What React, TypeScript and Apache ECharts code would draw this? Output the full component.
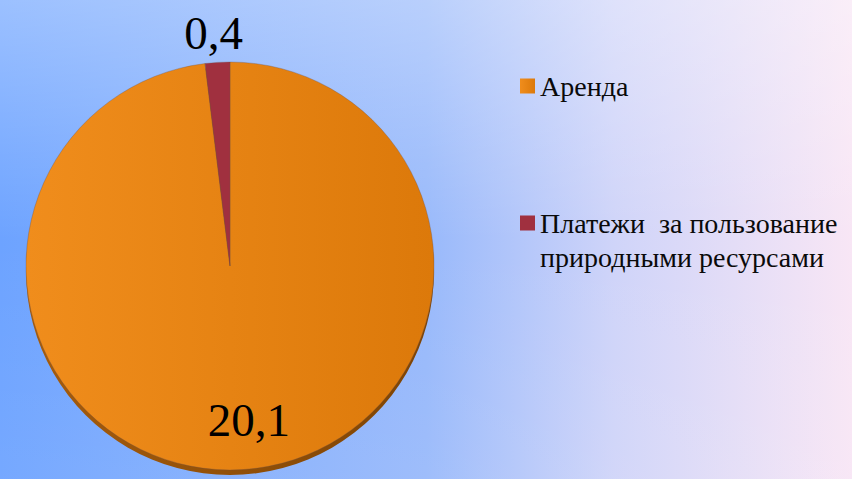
import React, { useEffect, useRef } from "react";
import * as echarts from "echarts";

const categories = ["Аренда", "Платежи за пользование природными ресурсами"];
const values = [20.1, 0.4];
const legendLines: Record<string, string[]> = {
  "Аренда": ["Аренда"],
  "Платежи за пользование природными ресурсами": ["Платежи  за пользование", "природными ресурсами"],
};

const FONT = "Liberation Serif";

export default function App() {
  const ref = useRef<HTMLDivElement>(null);
  useEffect(() => {
    const chart = echarts.init(ref.current!, null, { renderer: "svg" });
    const orange = {
      type: "linear", x: 0, y: 0, x2: 1, y2: 0,
      colorStops: [
        { offset: 0, color: "#f08d1c" },
        { offset: 1, color: "#dc790a" },
      ],
    };
    const legendText = {
      fontFamily: FONT,
      fontSize: 28,
      color: "#0a0a0a",
      lineHeight: 34,
      rich: {
        t: { fontFamily: FONT, fontSize: 28, color: "#0a0a0a", lineHeight: 34 },
      },
    };
    const fmt = (name: string) => legendLines[name].map((l) => `{t|${l}}`).join("\n");
    chart.setOption({
      animation: false,
      textStyle: { fontFamily: FONT },
      backgroundColor: {
        type: "linear", x: 0, y: 0, x2: 1, y2: 0,
        colorStops: [
          { offset: 0, color: "#6da3ff" },
          { offset: 0.5, color: "#98b9fb" },
          { offset: 0.72, color: "#cfd4f9" },
          { offset: 1, color: "#f8e6f5" },
        ],
      },
      graphic: [
        {
          type: "rect",
          silent: true,
          z: -10,
          shape: { x: 0, y: 0, width: 852, height: 479 },
          style: {
            fill: {
              type: "linear", x: 0, y: 0, x2: 0, y2: 1,
              colorStops: [
                { offset: 0, color: "rgba(255,255,255,0.32)" },
                { offset: 0.5, color: "rgba(255,255,255,0)" },
                { offset: 1, color: "rgba(255,255,255,0.06)" },
              ],
            },
          },
        },
      ],
      legend: [
        {
          orient: "vertical",
          left: 520,
          top: 69,
          padding: 0,
          itemWidth: 15,
          itemHeight: 15,
          icon: "rect",
          itemStyle: { borderWidth: 0 },
          data: [categories[0]],
          formatter: fmt,
          textStyle: legendText,
        },
        {
          orient: "vertical",
          left: 520,
          top: 206,
          padding: 0,
          itemWidth: 15,
          itemHeight: 49,
          icon: "path://M0,0h15v15h-15z M0,48.99h0.01v0.01h-0.01z",
          itemStyle: { borderWidth: 0 },
          data: [categories[1]],
          formatter: fmt,
          textStyle: legendText,
        },
      ],
      series: [
        {
          type: "pie",
          center: [230, 266],
          radius: 204,
          startAngle: 90,
          clockwise: true,
          z: 3,
          data: [
            { name: categories[0], value: values[0], itemStyle: { color: orange } },
            { name: categories[1], value: values[1], itemStyle: { color: "#a0303f" } },
          ],
          itemStyle: { borderColor: "rgba(110,80,70,0.55)", borderWidth: 0.6 },
          label: {
            show: true,
            position: "inside",
            formatter: (p: any) => String(p.value).replace(".", ","),
            fontFamily: FONT,
            fontSize: 47,
            color: "#000",
          },
          labelLine: { show: false },
          labelLayout: (p: any) => {
            const r = p.rect;
            if (p.dataIndex === 1) {
              return { x: r.x + r.width / 2 - 4, y: r.y - 5, align: "center", verticalAlign: "bottom" };
            }
            return { x: r.x + r.width * 0.546, y: r.y + r.height * 0.877, align: "center", verticalAlign: "middle" };
          },
          emphasis: { disabled: true },
        },
        {
          type: "pie",
          center: [230, 271],
          radius: 204,
          silent: true,
          z: 1,
          label: { show: false },
          labelLine: { show: false },
          data: [
            {
              name: "_edge",
              value: 1,
              itemStyle: {
                color: {
                  type: "linear", x: 0, y: 0, x2: 1, y2: 0,
                  colorStops: [
                    { offset: 0, color: "#a65c0c" },
                    { offset: 1, color: "#7e4404" },
                  ],
                },
              },
            },
          ],
          emphasis: { disabled: true },
        },
      ],
    });
    return () => chart.dispose();
  }, []);
  return (
    <div
      ref={ref}
      style={{ position: "fixed", left: 0, top: 0, width: 852, height: 479 }}
    />
  );
}
